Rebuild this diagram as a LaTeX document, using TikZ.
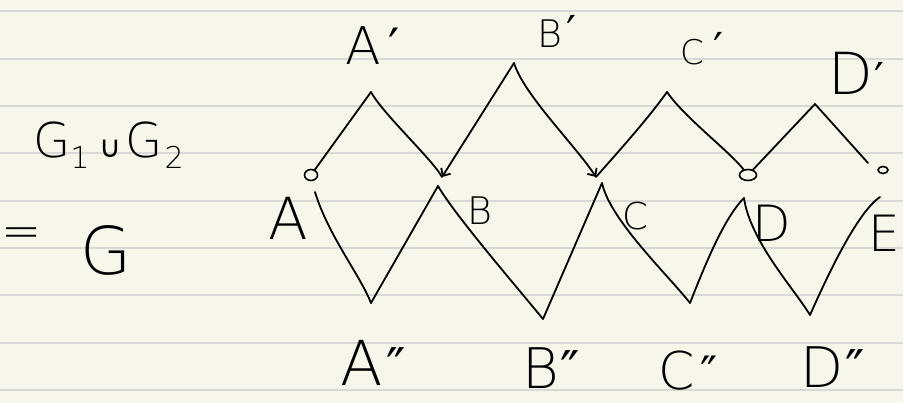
\documentclass[tikz,border=0pt]{standalone}
\usepackage{fontspec}
\newfontfamily\hand{DejaVu Sans ExtraLight}
\newfontfamily\symb{DejaVu Sans}
\usetikzlibrary{arrows.meta,shapes.geometric}
\definecolor{paper}{RGB}{248,246,234}
\definecolor{ruling}{RGB}{216,216,214}
\newcommand{\pr}[1][44]{{\symb\fontsize{#1}{#1}\selectfont ′}}
\newcommand{\ppr}[1][52]{{\symb\fontsize{#1}{#1}\selectfont ″}}
\newcommand{\low}[1]{\raisebox{-11pt}{\fontsize{30}{30}\selectfont #1}}

\begin{document}
\begin{tikzpicture}[x=1pt,y=-1pt,>={Straight Barb[length=6pt,width=11pt]},
  ink/.style={line width=1.8pt,line cap=round,line join=round},
  vtx/.style={ellipse,draw,line width=1.6pt,inner sep=0pt},
  lab/.style={font=\hand\fontsize{#1}{#1}\selectfont,inner sep=0pt,anchor=base west},
  lab/.default=52]

  % lined paper
  \fill[paper] (0,0) rectangle (903,403);
  \useasboundingbox (0,0) rectangle (903,403);
  \foreach \k in {0,...,8}
    \draw[draw=ruling,line width=2pt] (0,{11.5+47.3*\k}) -- (903,{11.5+47.3*\k});

  % left note
  \node[lab=48] (union) at (33,158) {G\low{1}\hspace{10pt}{\symb\fontsize{30}{30}\selectfont ∪}\hspace{4pt}G\hspace{2pt}\low{2}};
  \node[lab=48,anchor=center] (eq) at (22,238) {=};
  \node[lab=66] (G) at (80,275) {G};

  % vertices on the middle line
  \node[vtx,minimum width=13pt,minimum height=11pt] (A) at (311,175) {};
  \coordinate (B) at (442,177);
  \coordinate (C) at (596,177);
  \node[vtx,minimum width=17pt,minimum height=11pt] (D) at (748,175) {};
  \node[vtx,minimum width=10pt,minimum height=7pt] (E) at (883,170) {};
  \coordinate (Dend) at (868,163);
  % lower ends
  \coordinate (Al) at (315,192);
  \coordinate (Bl) at (438,186);
  \coordinate (Cl) at (602,183);
  \coordinate (Dl) at (744,198);
  \coordinate (El) at (880,197);
  % peaks
  \coordinate (Ap) at (371,92);
  \coordinate (Bp) at (514,63);
  \coordinate (Cp) at (667,92);
  \coordinate (Dp) at (815,104);
  \coordinate (App) at (371,303);
  \coordinate (Bpp) at (543,319);
  \coordinate (Cpp) at (690,303);
  \coordinate (Dpp) at (810,315);

  % upper chain
  \draw[ink] (A) -- (Ap);
  \draw[ink] (Ap) .. controls +(12,22) and +(-10,-18) .. (B);
  \draw[ink,->] (Bp) -- (B);
  \draw[ink,->] (Bp) .. controls +(10,32) and +(-21,-32) .. (C);
  \draw[ink] (C) .. controls +(22,-25) and +(-20,28) .. (Cp);
  \draw[ink] (Cp) .. controls +(18,26) and +(-20,-25) .. (D);
  \draw[ink] (D) -- (Dp);
  \draw[ink] (Dp) -- (Dend);

  % lower chain
  \draw[ink] (Al) .. controls +(13,43) and +(-11,-28) .. (App);
  \draw[ink] (App) -- (Bl);
  \draw[ink] (Bl) .. controls +(17,29) and +(-33,-40) .. (Bpp);
  \draw[ink] (Bpp) -- (Cl);
  \draw[ink] (Cl) .. controls +(8,37) and +(-22,-28) .. (Cpp);
  \draw[ink] (Cpp) .. controls +(15,-38) and +(-20,20) .. (Dl);
  \draw[ink] (Dl) .. controls +(6,43) and +(-15,-25) .. (Dpp);
  \draw[ink] (Dpp) .. controls +(20,-45) and +(-22,15) .. (El);

  % labels
  \node[lab=52] (lA) at (345,65) {A\hspace{8pt}\pr[50]};
  \node[lab=38] (lB) at (537,48) {B\hspace{4pt}\pr};
  \node[lab=34] (lC) at (680,65) {C\hspace{10pt}\pr};
  \node[lab=58] (lD) at (828,95) {D\hspace{2pt}\pr};
  \node[lab=58] (tA) at (268,240) {A};
  \node[lab=38] (tB) at (467,225) {B};
  \node[lab=37] (tC) at (622,230) {C};
  \node[lab=50] (tD) at (752,242) {D};
  \node[lab=50] (tE) at (868,252) {E};
  \node[lab=62] (lAA) at (340,386) {A\hspace{4pt}\ppr};
  \node[lab=56] (lBB) at (522,389) {B\hspace{2pt}\ppr};
  \node[lab=52] (lCC) at (658,390) {C\hspace{6pt}\ppr[46]};
  \node[lab=56] (lDD) at (800,388) {D\hspace{2pt}\ppr};
\end{tikzpicture}
\end{document}
